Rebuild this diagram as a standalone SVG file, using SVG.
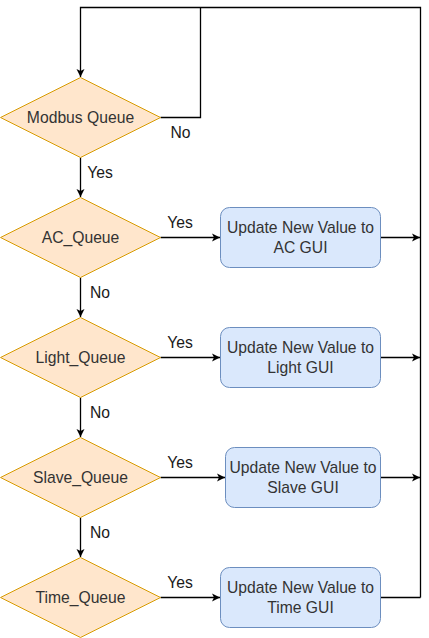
<svg xmlns="http://www.w3.org/2000/svg" width="429" height="638" viewBox="0 0 429 638">
<style>
.dia{fill:#ffe6cc;stroke:#d79b00;stroke-width:1}
.box{fill:#dae8fc;stroke:#6c8ebf;stroke-width:1}
.t{font-family:"Liberation Sans",Arial,sans-serif;font-size:15.7px;fill:#333333;text-anchor:middle}
.lbl{font-family:"Liberation Sans",Arial,sans-serif;font-size:15.7px;fill:#1a1a1a;text-anchor:middle}
.c{fill:none;stroke:#000;stroke-width:1.3}
</style>
<defs>
<marker id="ah" markerUnits="userSpaceOnUse" markerWidth="10" markerHeight="10" viewBox="0 0 10 10" refX="9" refY="5" orient="auto">
<path d="M1,1 L9,5 L1,9 L3,5 z" fill="#000"/>
</marker>
</defs>
<rect width="429" height="638" fill="#fff"/>
<g id="connectors">
<path class="c" d="M420.5,597.5 V7.5 H80.5 V77" marker-end="url(#ah)"/>
<path class="c" d="M160.5,117.5 H200.5 V7.5"/>
<path class="c" d="M80.5,157.5 V197" marker-end="url(#ah)"/>
<path class="c" d="M80.5,277.5 V317" marker-end="url(#ah)"/>
<path class="c" d="M80.5,397.5 V437" marker-end="url(#ah)"/>
<path class="c" d="M80.5,517.5 V557" marker-end="url(#ah)"/>
<path class="c" d="M160.5,237.5 H220" marker-end="url(#ah)"/>
<path class="c" d="M160.5,357.5 H220" marker-end="url(#ah)"/>
<path class="c" d="M160.5,477.5 H225" marker-end="url(#ah)"/>
<path class="c" d="M160.5,597.5 H220" marker-end="url(#ah)"/>
<path class="c" d="M380.5,237.5 H420" marker-end="url(#ah)"/>
<path class="c" d="M380.5,357.5 H420" marker-end="url(#ah)"/>
<path class="c" d="M380.5,477.5 H420" marker-end="url(#ah)"/>
<path class="c" d="M380.5,597.5 H420.5"/>
<text class="lbl" x="180.5" y="138">No</text>
<text class="lbl" x="100" y="178">Yes</text>
<text class="lbl" x="180" y="228">Yes</text>
<text class="lbl" x="100" y="298">No</text>
<text class="lbl" x="180" y="348">Yes</text>
<text class="lbl" x="100" y="418">No</text>
<text class="lbl" x="180" y="468">Yes</text>
<text class="lbl" x="100" y="538">No</text>
<text class="lbl" x="180" y="588">Yes</text>
</g>
<g id="modbus">
<path class="dia" d="M80.5,77.5 L160.5,117.5 L80.5,157.5 L0.5,117.5 z"/>
<text class="t" x="80.5" y="123">Modbus Queue</text>
</g>
<g id="ac_queue">
<path class="dia" d="M80.5,197.5 L160.5,237.5 L80.5,277.5 L0.5,237.5 z"/>
<text class="t" x="80.5" y="243">AC_Queue</text>
</g>
<g id="light_queue">
<path class="dia" d="M80.5,317.5 L160.5,357.5 L80.5,397.5 L0.5,357.5 z"/>
<text class="t" x="80.5" y="363">Light_Queue</text>
</g>
<g id="slave_queue">
<path class="dia" d="M80.5,437.5 L160.5,477.5 L80.5,517.5 L0.5,477.5 z"/>
<text class="t" x="80.5" y="483">Slave_Queue</text>
</g>
<g id="time_queue">
<path class="dia" d="M80.5,557.5 L160.5,597.5 L80.5,637.5 L0.5,597.5 z"/>
<text class="t" x="80.5" y="603">Time_Queue</text>
</g>
<g id="ac_gui">
<rect class="box" x="220.5" y="207.5" width="160" height="60" rx="9"/>
<text class="t" x="300.5" y="233">Update New Value to</text>
<text class="t" x="300.5" y="253">AC GUI</text>
</g>
<g id="light_gui">
<rect class="box" x="220.5" y="327.5" width="160" height="60" rx="9"/>
<text class="t" x="300.5" y="353">Update New Value to</text>
<text class="t" x="300.5" y="373">Light GUI</text>
</g>
<g id="slave_gui">
<rect class="box" x="225.5" y="447.5" width="155" height="60" rx="9"/>
<text class="t" x="303" y="473">Update New Value to</text>
<text class="t" x="303" y="493">Slave GUI</text>
</g>
<g id="time_gui">
<rect class="box" x="220.5" y="567.5" width="160" height="60" rx="9"/>
<text class="t" x="300.5" y="593">Update New Value to</text>
<text class="t" x="300.5" y="613">Time GUI</text>
</g>
</svg>
